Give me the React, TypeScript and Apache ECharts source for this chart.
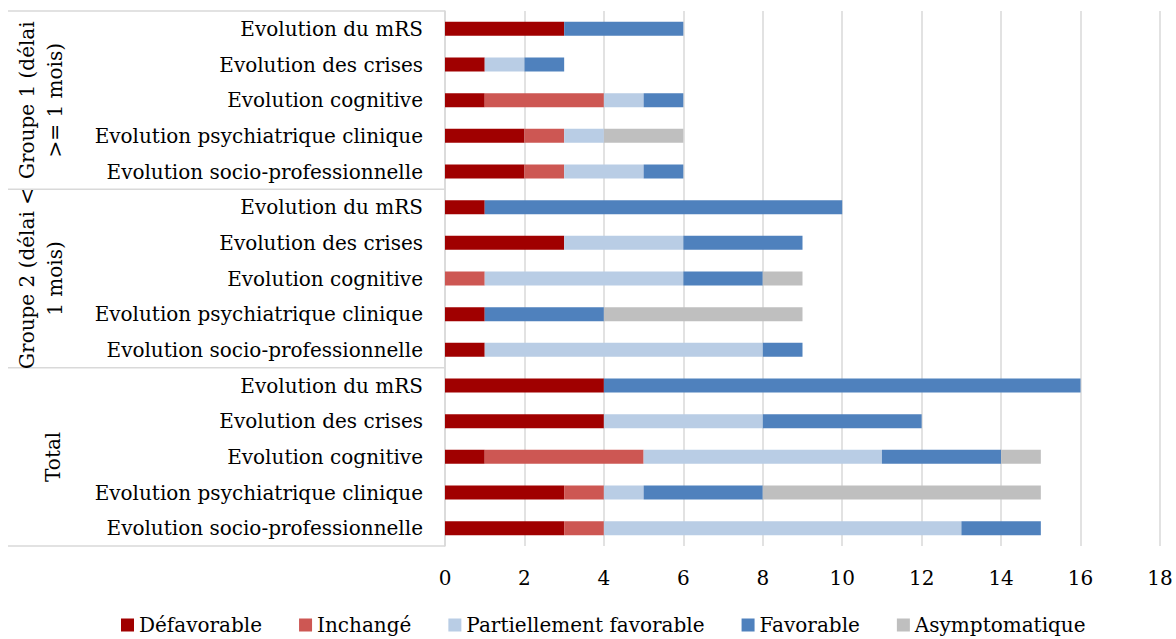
import React, { useEffect, useRef } from "react";
import * as echarts from "echarts";

const groups = ["Groupe 1 (délai\n>= 1 mois)", "Groupe 2 (délai <\n1 mois)", "Total"];
const itemLabels = [
  "Evolution du mRS",
  "Evolution des crises",
  "Evolution cognitive",
  "Evolution psychiatrique clinique",
  "Evolution socio-professionnelle",
];
const categories = groups.flatMap((g, gi) => itemLabels.map((l) => `${gi}|${l}`));

const seriesNames = ["Défavorable", "Inchangé", "Partiellement favorable", "Favorable", "Asymptomatique"];
const colors = ["#A00000", "#CD5753", "#B9CDE5", "#4F81BD", "#BFBFBF"];

const defavorable = [3, 1, 1, 2, 2, 1, 3, 0, 1, 1, 4, 4, 1, 3, 3];
const inchange = [0, 0, 3, 1, 1, 0, 0, 1, 0, 0, 0, 0, 4, 1, 1];
const partiellement = [0, 1, 1, 1, 2, 0, 3, 5, 0, 7, 0, 4, 6, 1, 9];
const favorable = [3, 1, 1, 0, 1, 9, 3, 2, 3, 1, 12, 4, 3, 3, 2];
const asymptomatique = [0, 0, 0, 2, 0, 0, 0, 1, 5, 0, 0, 0, 1, 7, 0];
const seriesValues = [defavorable, inchange, partiellement, favorable, asymptomatique];

const xTicks = { min: 0, max: 18, interval: 2 };

const FONT = "'DejaVu Serif', serif";

export default function App() {
  const ref = useRef<HTMLDivElement>(null);
  useEffect(() => {
    if (!ref.current) return;
    const chart = echarts.init(ref.current, null, { renderer: "svg" });
    const option: any = {
      animation: false,
      textStyle: { fontFamily: FONT },
      grid: { left: 445, right: 16, top: 11, bottom: 93, containLabel: false },
      legend: {
        top: 610,
        left: 116,
        itemWidth: 13,
        itemHeight: 13,
        itemGap: 37,
        icon: "rect",
        textStyle: { fontFamily: FONT, fontSize: 20, color: "#000" },
        data: seriesNames,
      },
      xAxis: {
        type: "value",
        min: xTicks.min,
        max: xTicks.max,
        interval: xTicks.interval,
        axisLine: { show: false },
        axisTick: { show: false },
        axisLabel: { fontFamily: FONT, fontSize: 20, color: "#000", margin: 22 },
        splitLine: { lineStyle: { color: "#D9D9D9", width: 1.5 } },
      },
      yAxis: {
        type: "category",
        inverse: true,
        data: categories,
        axisLine: { show: true, lineStyle: { color: "#D9D9D9", width: 1.5 } },
        axisTick: { show: false },
        axisLabel: {
          fontFamily: FONT,
          fontSize: 20,
          color: "#000",
          margin: 22,
          formatter: (v: string) => v.split("|")[1],
        },
      },
      series: seriesNames.map((name, i) => ({
        name,
        type: "bar",
        stack: "total",
        barWidth: 14,
        itemStyle: { color: colors[i] },
        data: seriesValues[i],
      })),
    };
    chart.setOption(option);

    const y0 = chart.convertToPixel({ yAxisIndex: 0 }, 0) as number;
    const y1 = chart.convertToPixel({ yAxisIndex: 0 }, 1) as number;
    const band = y1 - y0;
    const axisX = chart.convertToPixel({ xAxisIndex: 0 }, 0) as number;
    const perGroup = itemLabels.length;
    const graphics: any[] = [];
    for (let g = 0; g <= groups.length; g++) {
      const y = y0 - band / 2 + g * perGroup * band;
      graphics.push({
        type: "line",
        shape: { x1: 8, y1: y, x2: axisX, y2: y },
        style: { stroke: "#D9D9D9", lineWidth: 1.5 },
        silent: true,
      });
    }
    groups.forEach((g, gi) => {
      const yc = y0 - band / 2 + (gi + 0.5) * perGroup * band;
      const multi = g.includes("\n");
      graphics.push({
        type: "text",
        x: multi ? 41 : 53,
        y: yc,
        rotation: Math.PI / 2,
        style: {
          text: g,
          font: `20px ${FONT}`,
          fill: "#000",
          textAlign: "center",
          textVerticalAlign: "middle",
          lineHeight: 28,
        },
        silent: true,
      });
    });
    chart.setOption({ graphic: graphics });
    return () => chart.dispose();
  }, []);
  return <div ref={ref} style={{ position: "absolute", left: 0, top: 0, width: 1176, height: 639 }} />;
}
